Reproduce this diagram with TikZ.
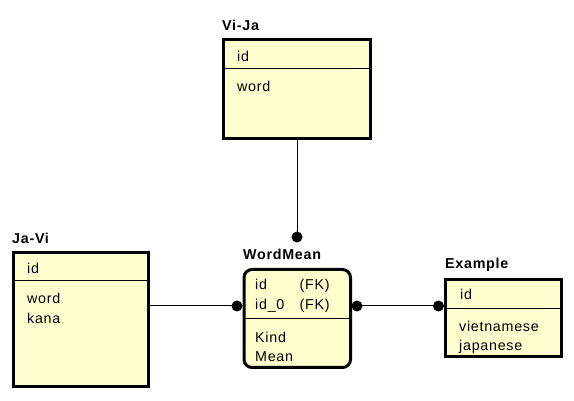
\documentclass[tikz,border=0pt]{standalone}
\usepackage{fontspec}
\setmainfont{Liberation Sans}[LetterSpace=5]
\definecolor{entfill}{HTML}{FEFECE}
\tikzset{
  entity/.style={draw=black, line width=3pt, fill=entfill, anchor=north west, inner sep=0pt, outer sep=0pt},
  sepline/.style={line width=1pt},
  conn/.style={line width=1pt},
  txt/.style={anchor=base west, inner sep=0pt, font=\fontsize{14.3}{16}\selectfont},
  ttl/.style={anchor=base west, inner sep=0pt, font=\fontsize{14.3}{16}\selectfont\bfseries},
  dot/.style={fill=black}
}
\begin{document}
\begin{tikzpicture}[x=1pt,y=-1pt]
\useasboundingbox[fill=white] (0,0) rectangle (574,401);
% Vi-Ja
\node[ttl] (vijat) at (222,30.5) {Vi-Ja};
\node[entity, minimum width=147pt, minimum height=99pt] (vija) at (223.5,39.5) {};
\draw[sepline] ([yshift=-29.5pt]vija.north west) -- ([yshift=-29.5pt]vija.north east);
\node[txt] (vijaid) at (237,61.5) {id};
\node[txt] (vijaword) at (237,91.5) {word};
% Ja-Vi
\node[ttl] (javit) at (12,244) {Ja-Vi};
\node[entity, minimum width=135pt, minimum height=134pt] (javi) at (13.5,252.5) {};
\draw[sepline] ([yshift=-28.5pt]javi.north west) -- ([yshift=-28.5pt]javi.north east);
\node[txt] (javiid) at (27,273.5) {id};
\node[txt] (javiword) at (27,304) {word};
\node[txt] (javikana) at (27,324) {kana};
% WordMean
\node[ttl] (wmt) at (243,260) {WordMean};
\node[entity, rounded corners=8pt, minimum width=106.5pt, minimum height=98pt] (wm) at (244,269.5) {};
\draw[sepline] ([yshift=-49.5pt]wm.north west) -- ([yshift=-49.5pt]wm.north east);
\node[txt] (wmid) at (255,290) {id};
\node[txt] (wmfk1) at (299.5,290) {(FK)};
\node[txt] (wmid0) at (255,309.5) {id\_0};
\node[txt] (wmfk2) at (299.5,309.5) {(FK)};
\node[txt] (wmkind) at (255,342) {Kind};
\node[txt] (wmmean) at (255,361.5) {Mean};
% Example
\node[ttl] (ext) at (445,269) {Example};
\node[entity, minimum width=116pt, minimum height=77pt] (ex) at (445.5,279.5) {};
\draw[sepline] ([yshift=-29.5pt]ex.north west) -- ([yshift=-29.5pt]ex.north east);
\node[txt] (exid) at (460,299.5) {id};
\node[txt] (exvi) at (459,331.5) {vietnamese};
\node[txt] (exja) at (459,350.5) {japanese};
% connectors
\coordinate (d1) at (297,237);
\coordinate (d2) at (237,306);
\coordinate (d3) at (357,306);
\coordinate (d4) at (438.5,306);
\draw[conn] (vija.south) -- (d1);
\draw[conn] (javi.east |- d2) -- (d2);
\draw[conn] (d3) -- (d4);
\fill[dot] (d1) circle (5.5pt);
\fill[dot] (d2) circle (5.5pt);
\fill[dot] (d3) circle (5.5pt);
\fill[dot] (d4) circle (5.5pt);
\end{tikzpicture}
\end{document}
